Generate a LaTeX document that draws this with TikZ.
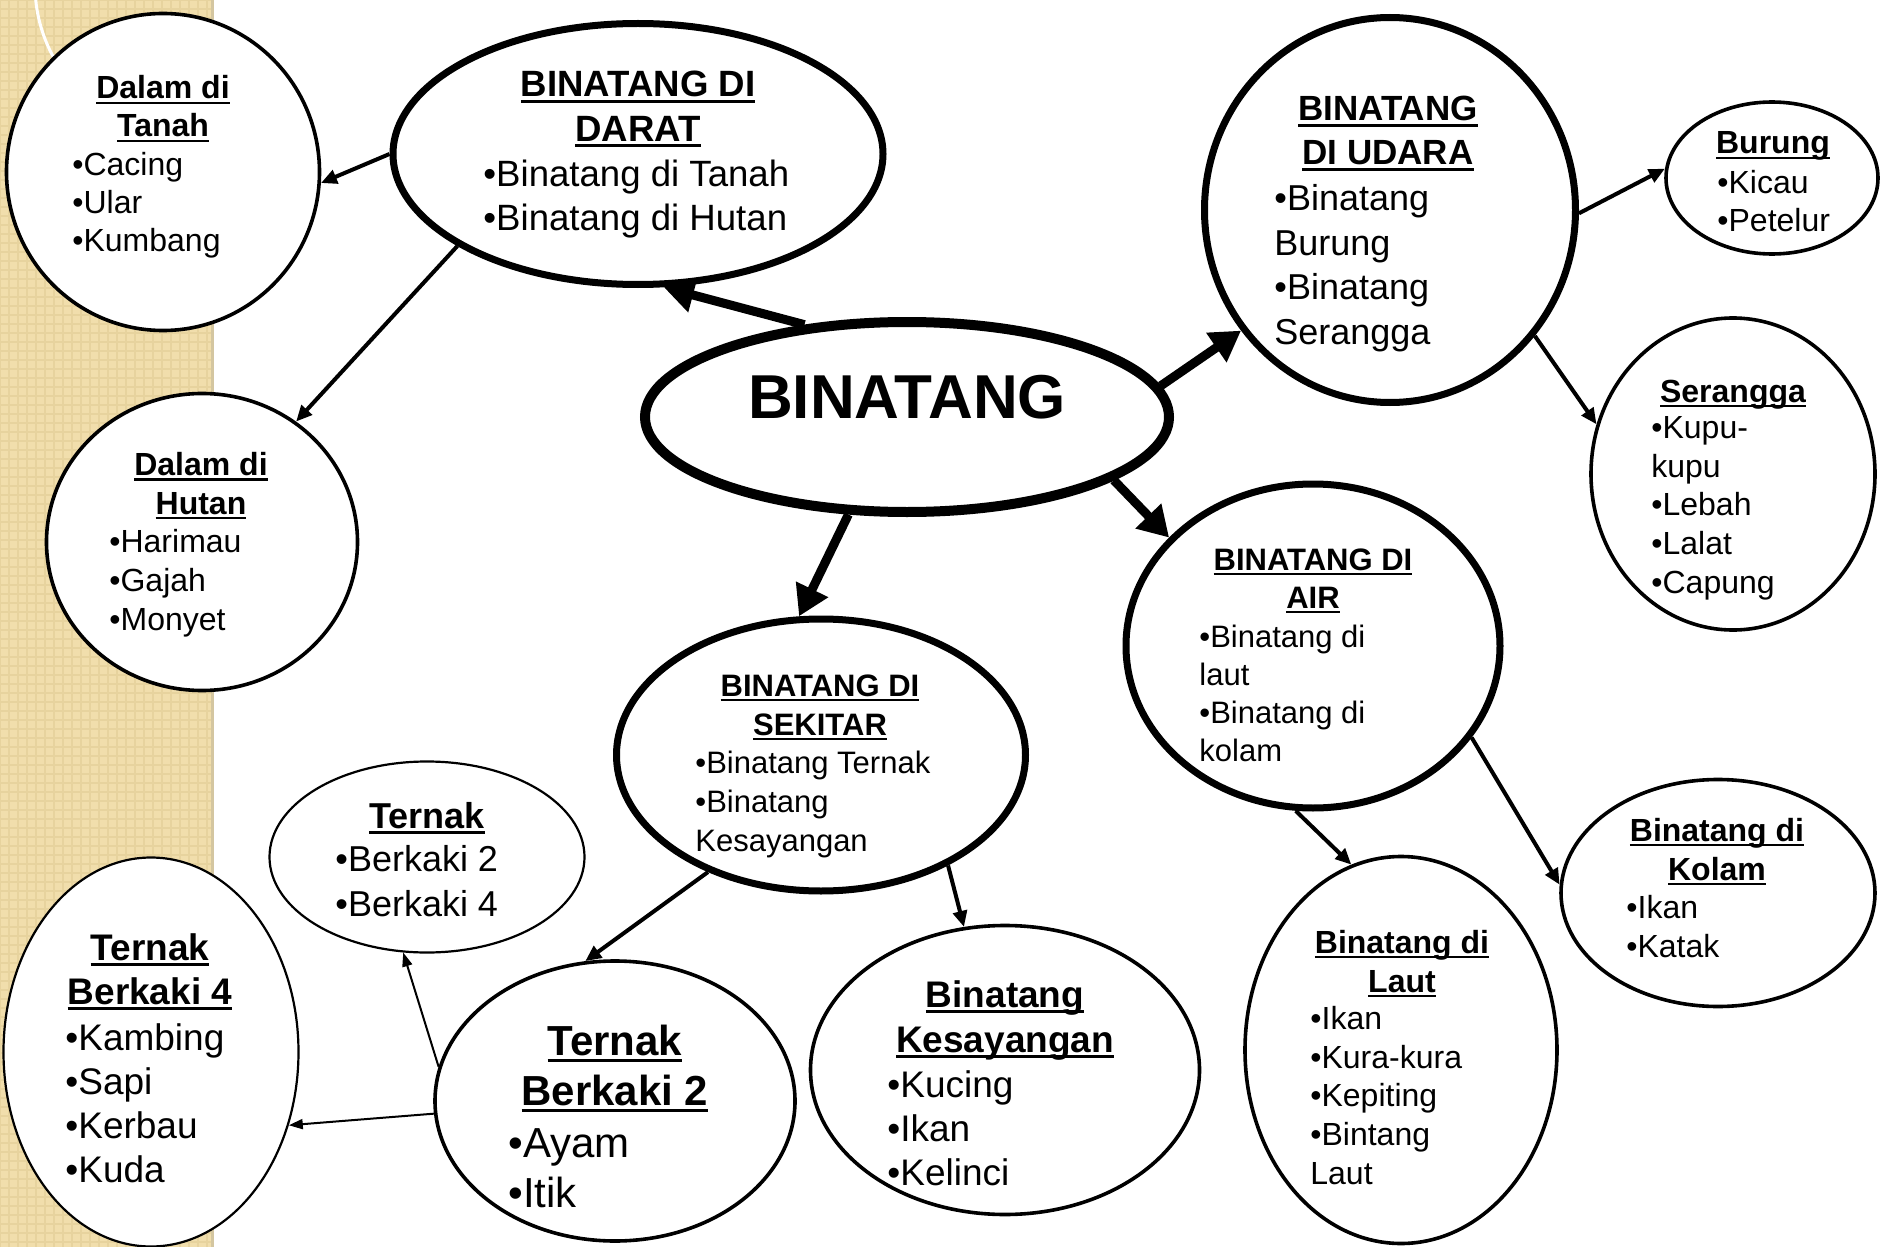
\documentclass[tikz,border=0pt]{standalone}
\usepackage{fontspec}
\setmainfont{Liberation Sans}
\usetikzlibrary{shapes.geometric,arrows.meta}

\definecolor{stripe}{RGB}{241,222,172}
\definecolor{stripeln}{RGB}{231,211,158}
\definecolor{stripeedge}{RGB}{212,198,160}

\newsavebox{\ulbox}
\newcommand{\ulin}[1]{\sbox{\ulbox}{#1}\rlap{\rule[-0.17em]{\wd\ulbox}{0.08em}}\usebox{\ulbox}}

\tikzset{
  bub/.style={draw, ellipse, fill=white, inner sep=0pt, line width=1.8pt},
  bubthin/.style={bub, line width=1.1pt},
  bubthick/.style={bub, line width=3.5pt},
  ttl/.style 2 args={font=\bfseries\fontsize{#1}{#2}\selectfont, align=center, anchor=base, inner sep=0pt},
  itm/.style 2 args={font=\fontsize{#1}{#2}\selectfont, align=left, anchor=base west, inner sep=0pt},
  fat/.style={line width=4.5pt, -{Triangle[length=15pt,width=17pt]}},
  mid/.style={line width=2pt, -{Triangle[length=8pt,width=7pt]}},
  thinarr/.style={line width=1pt, -{Triangle[length=7pt,width=5pt]}}
}

\begin{document}
\begin{tikzpicture}[x=0.5pt, y=-0.5pt]
\useasboundingbox (0,0) rectangle (1892,1247);
\clip (0,0) rectangle (1892,1247);
% slide background
\fill[stripe] (0,0) rectangle (212,1247);
\draw[stripeln, line width=1.2pt, step=4.5pt] (0,0) grid (212,1247);
\draw[stripeedge, line width=1.5pt] (212,0) -- (212,1247);
\draw[white, line width=1.5pt] (185,-15) circle[radius=150];

% bubbles
\node[bub, minimum width=156.5pt, minimum height=158.5pt] (tanah) at (163,172) {};
\node[bubthick, minimum width=245pt, minimum height=130.5pt] (darat) at (638,154) {};
\node[bub, line width=5pt, minimum width=262pt, minimum height=95pt] (binatang) at (907,417) {};
\node[bubthick, minimum width=185.5pt, minimum height=192.5pt] (udara) at (1390,210) {};
\node[bub, minimum width=106pt, minimum height=76pt] (burung) at (1772,178) {};
\node[bub, minimum width=142pt, minimum height=156pt] (serangga) at (1733,474) {};
\node[bub, minimum width=155.5pt, minimum height=148.5pt] (hutan) at (202,542) {};
\node[bubthick, minimum width=187pt, minimum height=162pt] (air) at (1313,646) {};
\node[bubthick, minimum width=204.5pt, minimum height=136pt] (sekitar) at (821,755) {};
\node[bubthin, minimum width=157.5pt, minimum height=95.5pt] (ternak) at (427,857) {};
\node[bubthin, minimum width=147.5pt, minimum height=194.5pt] (kaki4) at (151,1052) {};
\node[bub, minimum width=180pt, minimum height=140pt] (kaki2) at (615,1101) {};
\node[bub, minimum width=194.5pt, minimum height=144.5pt] (sayang) at (1005,1070) {};
\node[bub, minimum width=156pt, minimum height=193.5pt] (laut) at (1401,1050) {};
\node[bub, minimum width=157pt, minimum height=113.5pt] (kolam) at (1718,893) {};

% texts (base = last line)
\node[ttl={31pt}{36pt}] (binatangT) at (907,418) {BINATANG};
\node[ttl={16pt}{19pt}] (tanahT) at (163,137) {\ulin{Dalam di}\\\ulin{Tanah}};
\node[itm={16pt}{19pt}] (tanahL) at (72,251) {•Cacing\\•Ular\\•Kumbang};
\node[ttl={18.3pt}{22pt}] (daratT) at (638,141) {\ulin{BINATANG DI}\\\ulin{DARAT}};
\node[itm={18.3pt}{22pt}] (daratL) at (483,230) {•Binatang di Tanah\\•Binatang di Hutan};
\node[ttl={17.5pt}{22pt}] (udaraT) at (1388,165) {\ulin{BINATANG}\\\ulin{DI UDARA}};
\node[itm={18pt}{22.2pt}] (udaraL) at (1274,344) {•Binatang\\Burung\\•Binatang\\Serangga};
\node[ttl={16pt}{19.5pt}] (burungT) at (1773,154) {\ulin{Burung}};
\node[itm={16pt}{19.5pt}] (burungL) at (1717,232) {•Kicau\\•Petelur};
\node[ttl={16pt}{19.3pt}] (seranggaT) at (1733,402) {\ulin{Serangga}};
\node[itm={16pt}{19.3pt}] (seranggaL) at (1651,593) {•Kupu-\\kupu\\•Lebah\\•Lalat\\•Capung};
\node[ttl={16pt}{19.3pt}] (hutanT) at (201,514) {\ulin{Dalam di}\\\ulin{Hutan}};
\node[itm={16pt}{19.3pt}] (hutanL) at (109,630) {•Harimau\\•Gajah\\•Monyet};
\node[ttl={15.5pt}{19pt}] (airT) at (1313,608) {\ulin{BINATANG DI}\\\ulin{AIR}};
\node[itm={15.5pt}{19pt}] (airL) at (1199,761) {•Binatang di\\laut\\•Binatang di\\kolam};
\node[ttl={15.5pt}{19.5pt}] (sekitarT) at (820,735) {\ulin{BINATANG DI}\\\ulin{SEKITAR}};
\node[itm={15.5pt}{19.5pt}] (sekitarL) at (695,851) {•Binatang Ternak\\•Binatang\\Kesayangan};
\node[ttl={18pt}{22.5pt}] (ternakT) at (427,828) {\ulin{Ternak}};
\node[itm={18pt}{22.5pt}] (ternakL) at (335,916) {•Berkaki 2\\•Berkaki 4};
\node[ttl={18.5pt}{22pt}] (kaki4T) at (150,1004) {\ulin{Ternak}\\\ulin{Berkaki 4}};
\node[itm={18.5pt}{22pt}] (kaki4L) at (65,1182) {•Kambing\\•Sapi\\•Kerbau\\•Kuda};
\node[ttl={21pt}{25pt}] (kaki2T) at (615,1105) {\ulin{Ternak}\\\ulin{Berkaki 2}};
\node[itm={21pt}{25pt}] (kaki2L) at (508,1207) {•Ayam\\•Itik};
\node[ttl={18.5pt}{22.5pt}] (sayangT) at (1005,1052) {\ulin{Binatang}\\\ulin{Kesayangan}};
\node[itm={18.5pt}{22pt}] (sayangL) at (887,1185) {•Kucing\\•Ikan\\•Kelinci};
\node[ttl={16pt}{19.5pt}] (lautT) at (1402,992) {\ulin{Binatang di}\\\ulin{Laut}};
\node[itm={16pt}{19.3pt}] (lautL) at (1310,1184) {•Ikan\\•Kura-kura\\•Kepiting\\•Bintang\\Laut};
\node[ttl={16pt}{19.5pt}] (kolamT) at (1717,880) {\ulin{Binatang di}\\\ulin{Kolam}};
\node[itm={16pt}{19.5pt}] (kolamL) at (1626,957) {•Ikan\\•Katak};

% arrows
\draw[fat] (binatang.138.5) -- (darat.-79); \draw[fat] (binatang.7) -- (udara.219.5);
\draw[fat] (binatang.-17) -- (air.143); \draw[fat] (binatang.-121) -- (sekitar.99);
\draw[mid] (darat.180) -- (tanah.-4); \draw[mid] (darat.207) -- (hutan.52);
\draw[mid] (udara.-1) -- (burung.175); \draw[mid] (udara.-41) -- (serangga.160);
\draw[mid] (air.-96) -- (laut.105); \draw[mid] (air.-30) -- (kolam.177);
\draw[mid] (sekitar.-134) -- (kaki2.102); \draw[mid] (sekitar.-41) -- (sayang.106);
\draw[thinarr] (kaki2.169) -- (ternak.-104); \draw[thinarr] (kaki2.184) -- (kaki4.-28);
\end{tikzpicture}
\end{document}
